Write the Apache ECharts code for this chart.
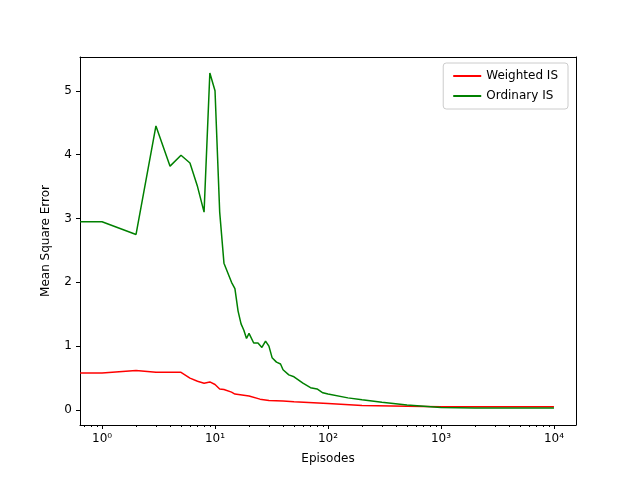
<html><head><script src="https://cdn.jsdelivr.net/npm/echarts@6/dist/echarts.min.js"></script></head><body style="margin:0"><div id="c" style="width:640px;height:478px"></div><script>
const greenX=[0.64,1,2,3,4,5,6,7,8,9,10,11,12,14,15,16,17,18,19,20,22,24,26,28,30,32,35,38,40,45,50,60,70,80,90,100,150,200,300,500,1000,2000,10000];
const greenY=[2.95,2.95,2.75,4.45,3.82,3.99,3.87,3.5,3.1,5.28,5.0,3.1,2.3,2.0,1.9,1.55,1.35,1.25,1.12,1.2,1.05,1.05,0.98,1.08,1.0,0.82,0.75,0.72,0.63,0.55,0.52,0.42,0.35,0.33,0.27,0.25,0.19,0.16,0.12,0.08,0.04,0.03,0.03];
const redX=[0.64,1,2,3,4,5,6,7,8,9,10,11,12,14,15,20,25,30,40,50,100,200,500,1000,10000];
const redY=[0.58,0.58,0.62,0.59,0.59,0.59,0.5,0.45,0.42,0.44,0.4,0.33,0.32,0.28,0.25,0.22,0.17,0.15,0.14,0.13,0.1,0.07,0.06,0.05,0.05];
const majors=[0,1,2,3,4];
const sup=['⁰','¹','²','³','⁴'];
const minors=[];for(let d=-1;d<=4;d++)for(let m=2;m<=9;m++){const v=d+Math.log10(m);if(v>-0.195&&v<4.195)minors.push(v);}
const pts=(xs,ys)=>xs.map((x,i)=>[Math.log10(x),ys[i]]);
const F='DejaVu Sans';
const ax={show:true,onZero:false,lineStyle:{color:'#000'}};
echarts.init(document.getElementById('c')).setOption({animation:false,
grid:{left:80,right:64,top:57,bottom:53},
legend:{right:72,top:63,orient:'vertical',itemWidth:28,itemHeight:2,itemGap:8,textStyle:{fontFamily:F,fontSize:12,color:'#000'},borderColor:'#ccc',borderWidth:1,borderRadius:3,padding:[7,10],icon:'rect',data:['Weighted IS','Ordinary IS']},
xAxis:[{type:'value',min:-0.195,max:4.195,name:'Episodes',nameLocation:'middle',nameGap:28,nameTextStyle:{fontFamily:F,fontSize:12,color:'#000'},axisLine:ax,splitLine:{show:false},
axisTick:{show:true,length:4,customValues:majors,lineStyle:{color:'#000'}},
axisLabel:{customValues:majors,formatter:v=>'10'+sup[Math.round(v)],fontFamily:F,fontSize:12,color:'#000'}},
{type:'value',min:-0.195,max:4.195,position:'bottom',axisLine:{show:false,onZero:false},splitLine:{show:false},axisLabel:{show:false},axisTick:{show:true,length:2,customValues:minors,lineStyle:{color:'#000'}}},
{type:'value',position:'top',min:0,max:1,axisLine:ax,axisTick:{show:false},axisLabel:{show:false},splitLine:{show:false}}],
yAxis:[{type:'value',min:-0.235,max:5.53,name:'Mean Square Error',nameLocation:'middle',nameGap:28,nameTextStyle:{fontFamily:F,fontSize:12,color:'#000'},axisLine:ax,splitLine:{show:false},
axisTick:{show:true,length:4,customValues:[0,1,2,3,4,5],lineStyle:{color:'#000'}},axisLabel:{customValues:[0,1,2,3,4,5],fontFamily:F,fontSize:12,color:'#000'}},
{type:'value',position:'right',min:0,max:1,axisLine:ax,axisTick:{show:false},axisLabel:{show:false},splitLine:{show:false}}],
series:[{name:'Weighted IS',type:'line',data:pts(redX,redY),showSymbol:false,lineStyle:{color:'red',width:1.5},itemStyle:{color:'red'}},
{name:'Ordinary IS',type:'line',data:pts(greenX,greenY),showSymbol:false,lineStyle:{color:'green',width:1.5},itemStyle:{color:'green'}}]});
</script></body></html>
